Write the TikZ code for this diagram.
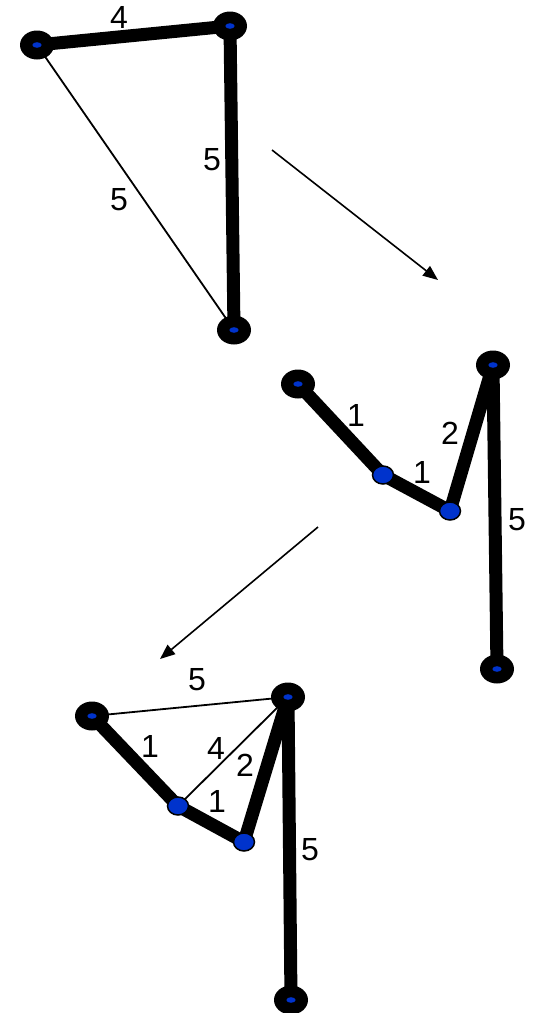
\documentclass[tikz,border=0pt]{standalone}
\usepackage{fontspec}
\setmainfont{Liberation Sans}
\usetikzlibrary{arrows.meta, shapes.geometric, backgrounds}

\definecolor{dotblue}{RGB}{0,51,204}

\begin{document}
\begin{tikzpicture}[
  x=0.5pt, y=-0.5pt,
  font=\fontsize{16}{19}\selectfont,
  vtx/.style={ellipse, fill=black, inner sep=0pt, minimum width=17pt, minimum height=14.5pt,
    path picture={\fill[dotblue] (path picture bounding box.center) ellipse (2.3pt and 1.4pt);}},
  bluevtx/.style={ellipse, fill=dotblue, draw=black, line width=0.75pt, inner sep=0pt,
    minimum width=10.5pt, minimum height=9pt},
  heavy/.style={line width=6.5pt},
  light/.style={line width=0.9pt},
  lbl/.style={inner sep=0pt},
  arrow/.style={-{Triangle[length=7.5pt, width=6pt]}, line width=0.8pt}
]
\useasboundingbox (0,0) rectangle (533,1013);

% first graph
\node[vtx] (a1) at (37,45) {};
\node[vtx] (a2) at (230,26) {};
\node[vtx] (a3) at (234,330) {};
\begin{pgfonlayer}{background}
\draw[heavy] (a1.center) -- node[lbl, shift={(-14.5,-18)}] (la12) {4} (a2.center);
\draw[heavy] (a2.center) -- node[lbl, shift={(-20,-18)}] (la23) {5} (a3.center);
\draw[light] (a1.center) -- node[lbl, shift={(-16.5,12.5)}] (la13) {5} (a3.center);
\end{pgfonlayer}

\coordinate (s1) at (272,150);
\coordinate (e1) at (438,280);
\draw[arrow] (s1) -- (e1);

% second graph
\node[vtx] (b1) at (298,384) {};
\node[bluevtx] (b2) at (383,475) {};
\node[bluevtx] (b3) at (450,511) {};
\node[vtx] (b4) at (493,365) {};
\node[vtx] (b5) at (497,669) {};
\begin{pgfonlayer}{background}
\draw[heavy] (b1.center) -- node[lbl, shift={(15.5,-14.5)}] (lb12) {1} (b2.center);
\draw[heavy] (b2.center) -- node[lbl, shift={(5.5,-21)}] (lb23) {1} (b3.center);
\draw[heavy] (b3.center) -- node[lbl, shift={(-21.5,-5)}] (lb34) {2} (b4.center);
\draw[heavy] (b4.center) -- node[lbl, shift={(22,3)}] (lb45) {5} (b5.center);
\end{pgfonlayer}

\coordinate (s2) at (318,527);
\coordinate (e2) at (160,659);
\draw[arrow] (s2) -- (e2);

% third graph
\node[vtx] (c1) at (92,716) {};
\node[bluevtx] (c2) at (178,806) {};
\node[bluevtx] (c3) at (244,842) {};
\node[vtx] (c4) at (288,697) {};
\node[vtx] (c5) at (291,1000) {};
\begin{pgfonlayer}{background}
\draw[light] (c1.center) -- node[lbl, shift={(7,-26.5)}] (lc14) {5} (c4.center);
\draw[heavy] (c1.center) -- node[lbl, shift={(15,-15)}] (lc12) {1} (c2.center);
\draw[light] (c2.center) -- node[lbl, shift={(-17,-3.5)}] (lc24) {4} (c4.center);
\draw[heavy] (c2.center) -- node[lbl, shift={(6,-23)}] (lc23) {1} (c3.center);
\draw[heavy] (c3.center) -- node[lbl, shift={(-21,-4.5)}] (lc34) {2} (c4.center);
\draw[heavy] (c4.center) -- node[lbl, shift={(20.5,1.5)}] (lc45) {5} (c5.center);
\end{pgfonlayer}
\end{tikzpicture}
\end{document}
